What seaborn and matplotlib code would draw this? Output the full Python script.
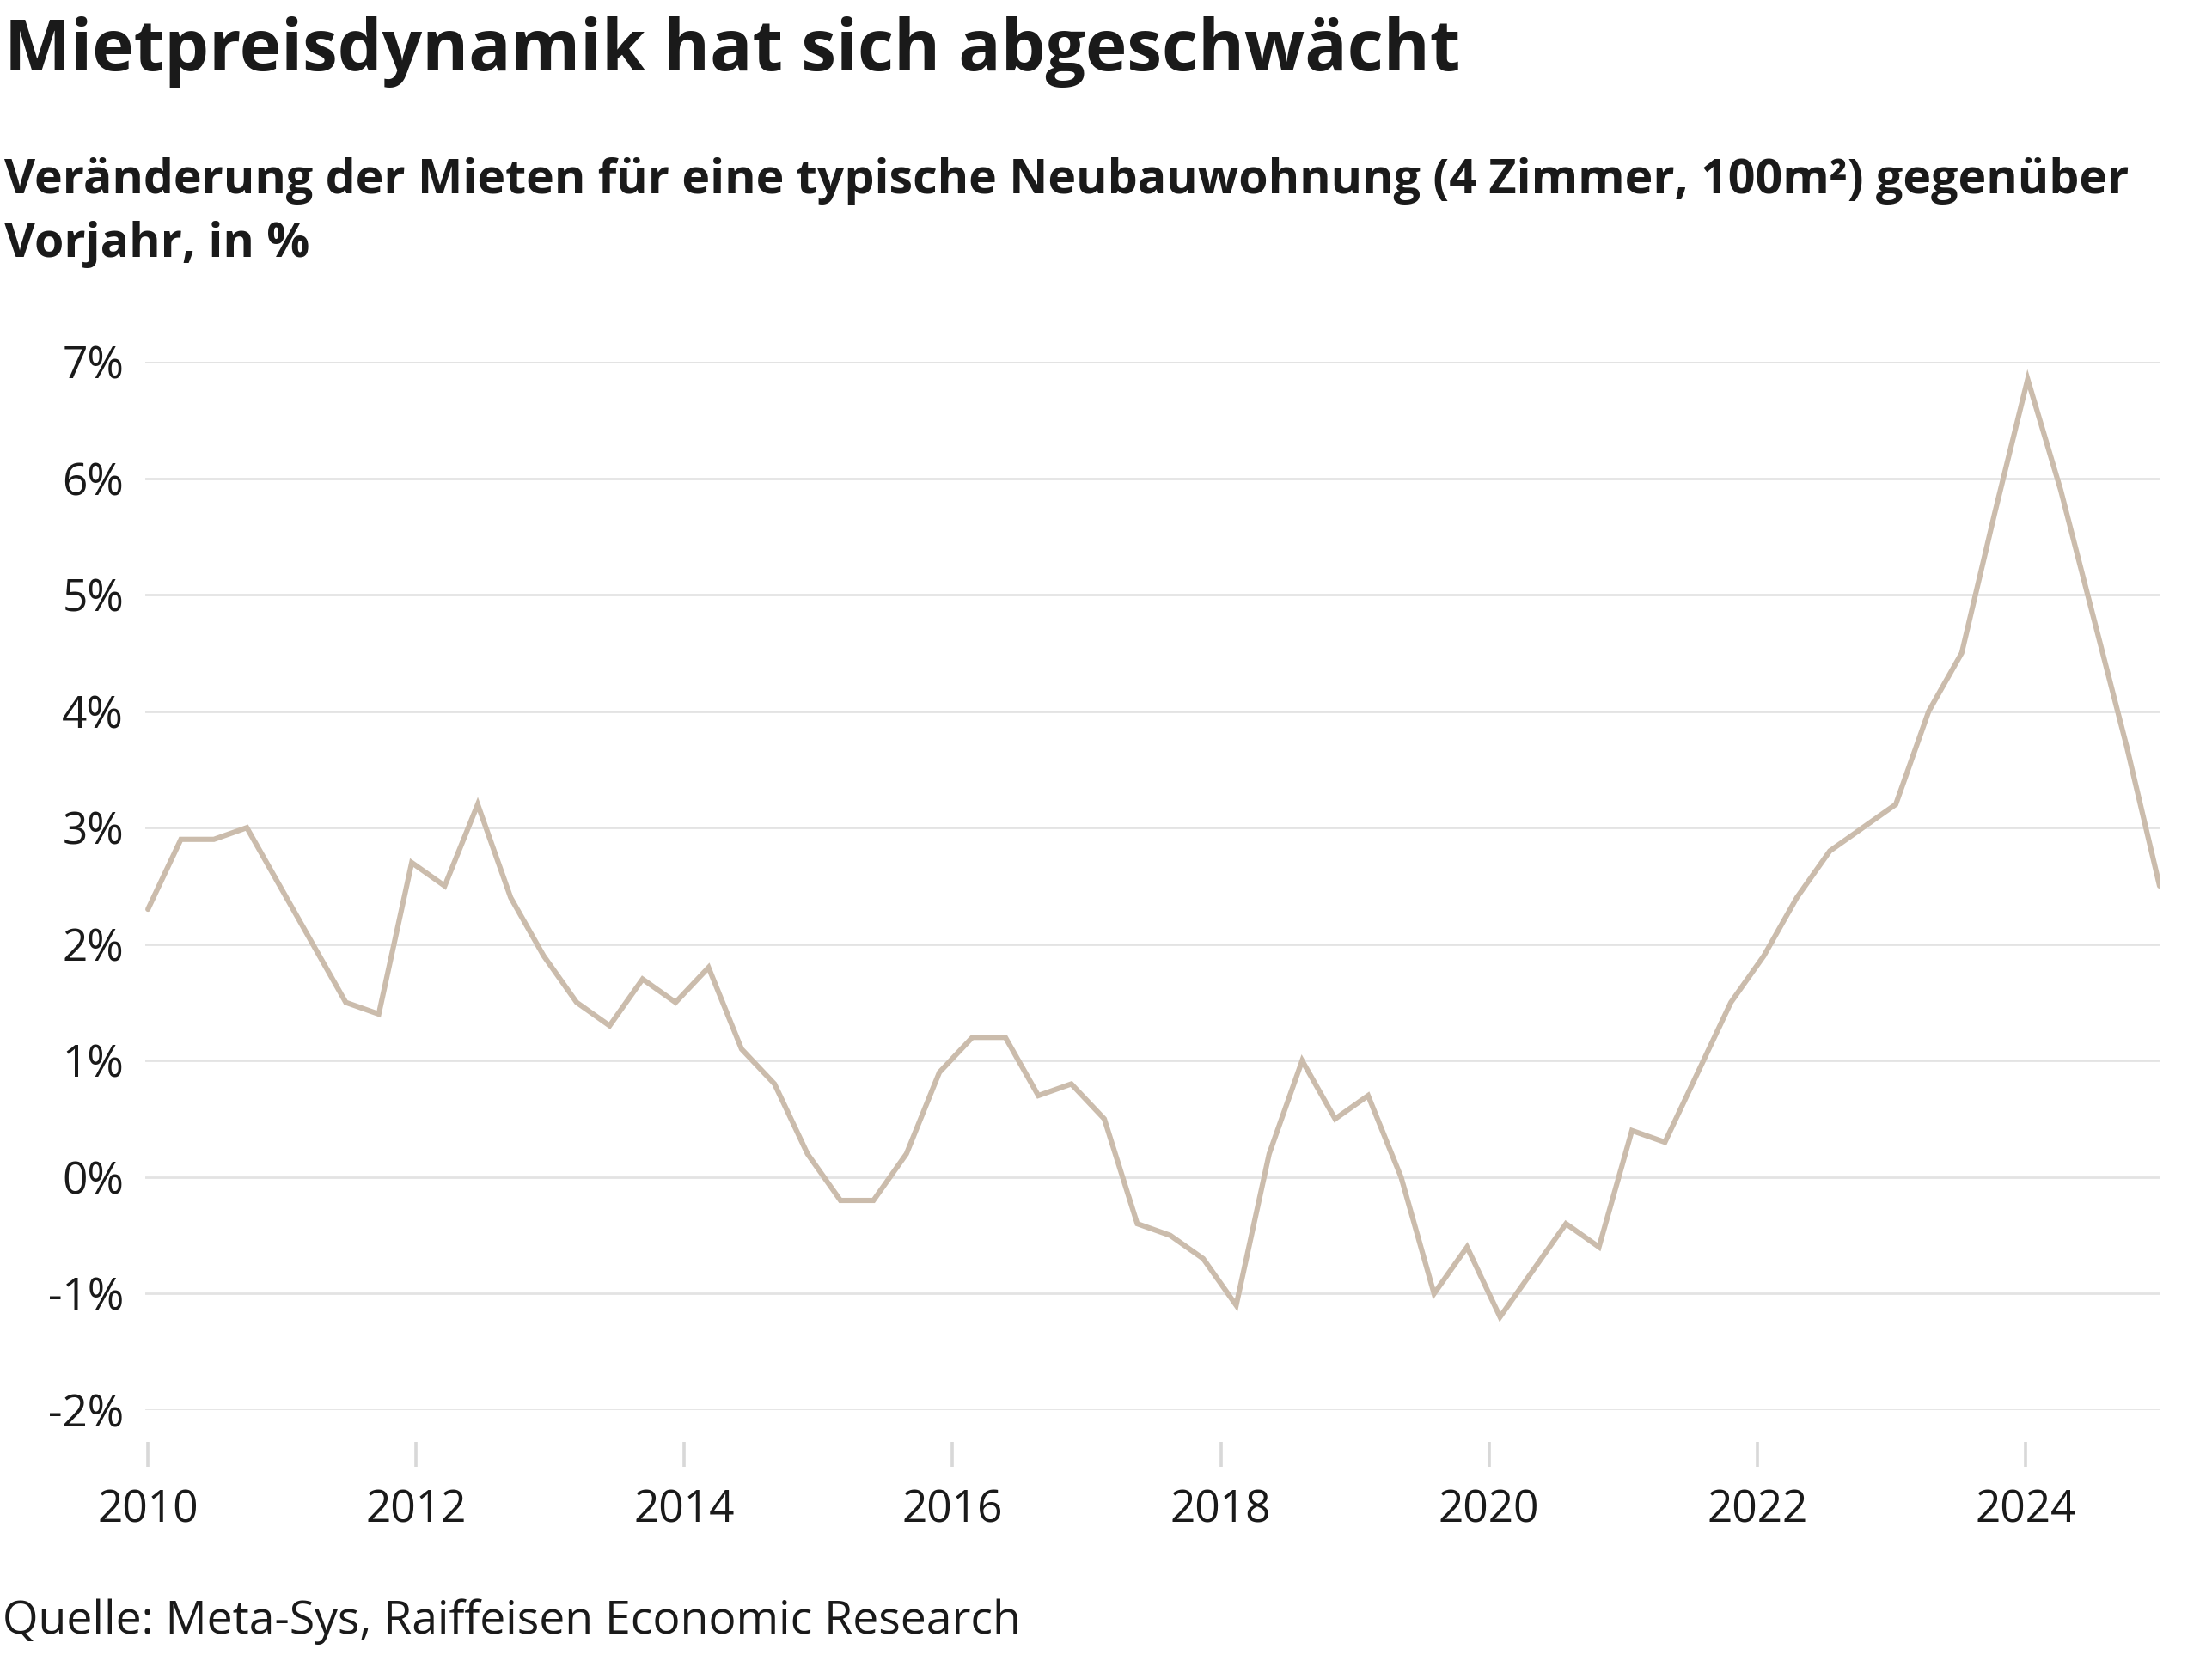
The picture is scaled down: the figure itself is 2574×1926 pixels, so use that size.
import numpy as np
import pandas as pd
import matplotlib
matplotlib.use("Agg")
import matplotlib.pyplot as plt
import seaborn as sns

# ---- data (year-over-year change in %) ----
values = [2.3, 2.9, 2.9, 3.0, 2.5, 2.0, 1.5, 1.4, 2.7, 2.5,
          3.2, 2.4, 1.9, 1.5, 1.3, 1.7, 1.5, 1.8, 1.1, 0.8,
          0.2, -0.2, -0.2, 0.2, 0.9, 1.2, 1.2, 0.7, 0.8, 0.5,
          -0.4, -0.5, -0.7, -1.1, 0.2, 1.0, 0.5, 0.7, 0.0, -1.0,
          -0.6, -1.2, -0.8, -0.4, -0.6, 0.4, 0.3, 0.9, 1.5, 1.9,
          2.4, 2.8, 3.0, 3.2, 4.0, 4.5, 5.7, 6.85, 5.9, 4.8,
          3.7, 2.5]
start_year = 2010
end_year = 2025
year_ticks = [2010, 2012, 2014, 2016, 2018, 2020, 2022, 2024]
y_ticks = [-2, -1, 0, 1, 2, 3, 4, 5, 6, 7]

title = "Mietpreisdynamik hat sich abgeschwächt"
subtitle = ("Veränderung der Mieten für eine typische Neubauwohnung (4 Zimmer, 100m²) gegenüber\n"
            "Vorjahr, in %")
source = "Quelle: Meta-Sys, Raiffeisen Economic Research"

x = np.linspace(start_year, end_year, len(values))
df = pd.DataFrame({"Jahr": x, "Veraenderung": values})

sns.set_theme(style="white")
plt.rcParams["font.family"] = ["Open Sans", "DejaVu Sans"]

TXT = "#1a1a1a"
W, H = 2574, 1926
fig = plt.figure(figsize=(W / 100, H / 100), dpi=100)
ax = fig.add_axes([169 / W, 1 - 1641 / H, (2513 - 169) / W, (1641 - 421) / H])

sns.lineplot(data=df, x="Jahr", y="Veraenderung", ax=ax, color="#cbbcac",
             linewidth=4.4, solid_joinstyle="miter")

ax.set_xlim(2009.98, 2025.0)
ax.set_ylim(-2, 7)
ax.set_yticks(y_ticks)
ax.set_yticklabels([f"{v}%" for v in y_ticks])
ax.set_xticks(year_ticks)
ax.set_xticklabels([str(v) for v in year_ticks])
ax.set_xlabel("")
ax.set_ylabel("")
ax.grid(axis="y", color="#e3e3e3", linewidth=2.0)
ax.grid(axis="x", visible=False)
ax.set_axisbelow(True)
for s in ["top", "right", "left"]:
    ax.spines[s].set_visible(False)
ax.spines["bottom"].set_position(("outward", 26.6))
ax.spines["bottom"].set_visible(False)
ax.tick_params(axis="x", bottom=True, length=21, width=2.6, color="#d8d8d8",
               direction="out", labelsize=37, labelcolor=TXT, pad=18)
ax.tick_params(axis="y", left=False, length=0, labelsize=37, labelcolor=TXT, pad=18)
ax.patch.set_alpha(0)

fig.text(5 / W, 1 - 82 / H, title, fontsize=59, fontweight="bold", color=TXT,
         ha="left", va="baseline")
fig.text(5 / W, 1 - 299 / H, subtitle, fontsize=40, fontweight="bold", color=TXT,
         ha="left", va="baseline", linespacing=1.45)
fig.text(3 / W, 1 - 1901 / H, source, fontsize=38.5, color=TXT, ha="left", va="baseline")

fig.savefig("out.png", dpi=100, facecolor="white")
